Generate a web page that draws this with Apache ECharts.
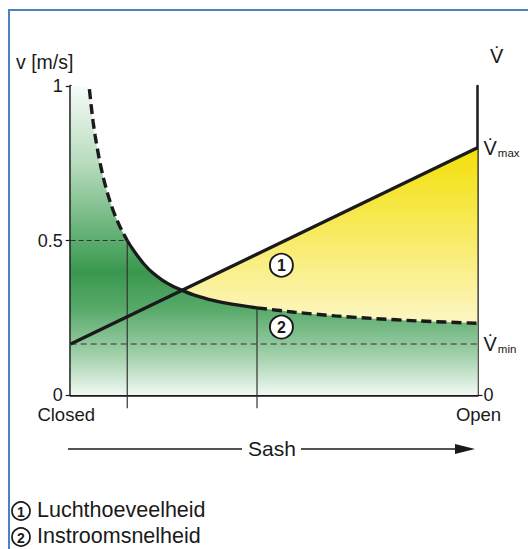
<!DOCTYPE html>
<html><head><meta charset="utf-8">
<script src="https://cdn.jsdelivr.net/npm/echarts@6/dist/echarts.min.js"></script>
<style>html,body{margin:0;padding:0;background:#fff}#c{width:528px;height:549px}</style>
</head><body><div id="c"></div>
<script>
// Curve (2) inflow velocity (x = sash opening 0..1, v in m/s)
const curveX = [0.046,0.05,0.055,0.06,0.07,0.08,0.09,0.10,0.11,0.12,0.13,0.139,0.15,0.165,0.18,0.20,0.225,0.25,0.277,0.30,0.35,0.40,0.458,0.55,0.65,0.75,0.85,1.0];
const curveV = [0.99,0.94,0.885,0.84,0.765,0.705,0.655,0.613,0.578,0.548,0.522,0.50,0.477,0.449,0.424,0.397,0.372,0.353,0.337,0.325,0.306,0.293,0.282,0.268,0.256,0.247,0.240,0.232];
// Line (1) air volume
const lineX = [0, 1];
const lineV = [0.165, 0.80];
const crossPoint = [0.272, 0.338];
const vMin = 0.165;
const vMax = 0.80;
const guideX = [0.139, 0.458];      // vertical guide positions
const guideBottom = -0.043;
const leftTicks = [0, 0.5, 1];
const xLabelValues = [0, 1];
const xLabels = ['Closed', 'Open'];
const badges = [[0.518, 0.42, '1'], [0.518, 0.22, '2']];
const legendLabels = ['Luchthoeveelheid', 'Instroomsnelheid'];

const FONT = 'Liberation Sans, Arial, Helvetica, sans-serif';
const INK = '#1a1a1a';
const curve = curveX.map((x, i) => [x, curveV[i]]);
const iA = curveX.indexOf(guideX[0]);
const iB = curveX.indexOf(guideX[1]);
const dashed1 = curve.slice(0, iA + 1);
const solid = curve.slice(iA, iB + 1);
const dashed2 = curve.slice(iB);
const greenArea = [[0, 1]].concat(curve);

const chart = echarts.init(document.getElementById('c'), null, {renderer: 'svg'});
const base = {type: 'line', symbol: 'none', silent: true, animation: false};
chart.setOption({
  animation: false,
  grid: {left: 70.7, right: 50.5, top: 86, bottom: 154},
  xAxis: {
    type: 'value', min: 0, max: 1,
    axisLine: {lineStyle: {color: INK, width: 2.5}},
    axisTick: {show: false},
    splitLine: {show: false},
    axisLabel: {customValues: xLabelValues,
      formatter: v => v === 0 ? '{l|' + xLabels[0] + '}' : '{r|' + xLabels[1] + '}',
      fontSize: 18.5, color: INK, fontFamily: FONT, margin: 10,
      rich: {l: {fontSize: 18.5, fontFamily: FONT, color: INK, padding: [0, 9, 0, 0]},
             r: {fontSize: 18.5, fontFamily: FONT, color: INK, padding: [0, 0, 0, 2]}}}
  },
  yAxis: [{
    type: 'value', min: 0, max: 1, interval: 0.5,
    axisLine: {show: true, lineStyle: {color: INK, width: 2.5}},
    axisTick: {show: true, length: 5, lineStyle: {color: INK, width: 1.2}, customValues: leftTicks},
    splitLine: {show: false},
    axisLabel: {customValues: leftTicks, fontSize: 18, color: INK, fontFamily: FONT, margin: 8,
      formatter: v => String(v)}
  }, {
    type: 'value', min: 0, max: 1, position: 'right',
    axisLine: {show: true, onZero: false, lineStyle: {color: INK, width: 2.5}},
    axisTick: {show: true, length: 5, lineStyle: {color: INK, width: 1.2}, customValues: [0]},
    splitLine: {show: false},
    axisLabel: {customValues: [0, vMin, vMax], color: INK, fontFamily: FONT, margin: 6, fontSize: 18,
      formatter: v => v === 0 ? '0' : '{v|V\u0307}{s|' + (v === vMin ? 'min' : 'max') + '}',
      rich: {v: {fontSize: 20, fontFamily: FONT, color: INK}, s: {fontSize: 11.5, fontFamily: FONT, color: INK, padding: [10, 0, 0, 1]}}}
  }],
  series: [
    Object.assign({}, base, {data: [crossPoint, [1, vMax]], z: 1, lineStyle: {width: 0},
      areaStyle: {opacity: 1, color: new echarts.graphic.LinearGradient(0, 0, 0, 1, [
        {offset: 0, color: '#f4df08'}, {offset: 0.3, color: '#f7e955'}, {offset: 0.71, color: '#fdf6c4'}, {offset: 1, color: '#fffbe2'}])}}),
    Object.assign({}, base, {data: greenArea, z: 2, smooth: 0.25, lineStyle: {width: 0},
      areaStyle: {opacity: 1, color: new echarts.graphic.LinearGradient(0, 0, 0, 1, [
        {offset: 0, color: '#f6fbf7'}, {offset: 0.25, color: '#b7dcbe'}, {offset: 0.5, color: '#5cad6e'},
        {offset: 0.6, color: '#3a974e'}, {offset: 0.72, color: '#57a96a'}, {offset: 0.88, color: '#a6d3af'}, {offset: 1, color: '#f2f9f3'}])}}),
    Object.assign({}, base, {data: [[0, vMin], [1, vMin]], z: 3, lineStyle: {color: '#333', width: 1, type: [6, 4]}}),
    Object.assign({}, base, {data: [[0, 0.5], [guideX[0], 0.5]], z: 3, lineStyle: {color: '#333', width: 1, type: [5, 3]}}),
    Object.assign({}, base, {data: [[guideX[0], 0.5], [guideX[0], guideBottom]], z: 3, clip: false, lineStyle: {color: '#333', width: 1.2}}),
    Object.assign({}, base, {data: [[guideX[1], curveV[iB]], [guideX[1], guideBottom]], z: 3, clip: false, lineStyle: {color: '#333', width: 1.2}}),
    Object.assign({}, base, {data: lineX.map((x, i) => [x, lineV[i]]), z: 4, lineStyle: {color: INK, width: 3.3}}),
    Object.assign({}, base, {data: dashed1, z: 4, smooth: 0.25, lineStyle: {color: INK, width: 3.4, type: [10, 5]}}),
    Object.assign({}, base, {data: solid, z: 4, smooth: 0.25, lineStyle: {color: INK, width: 3.3}}),
    Object.assign({}, base, {data: dashed2, z: 4, smooth: 0.25, lineStyle: {color: INK, width: 3.4, type: [10, 5]}}),
    {type: 'scatter', silent: true, z: 5, symbol: 'circle', symbolSize: 23,
      data: badges.map(b => [b[0], b[1]]),
      itemStyle: {color: '#fff', borderColor: INK, borderWidth: 1.9, opacity: 1},
      label: {show: true, position: 'inside', formatter: p => badges[p.dataIndex][2],
        fontSize: 16, fontWeight: 'bold', color: INK, fontFamily: FONT}}
  ],
  graphic: [
    {type: 'polyline', shape: {points: [[9, 549], [9, 10], [528, 10]]}, style: {stroke: '#4f80c4', lineWidth: 2, fill: null}},
    {type: 'text', left: 16, top: 52, style: {text: 'v [m/s]', font: '19.5px ' + FONT, fill: INK}},
    {type: 'text', left: 490, top: 46, style: {text: 'V\u0307', font: '20px ' + FONT, fill: INK}},
    {type: 'line', shape: {x1: 68, y1: 449, x2: 242, y2: 449}, style: {stroke: INK, lineWidth: 1.6}},
    {type: 'text', left: 248, top: 438, style: {text: 'Sash', font: '21px ' + FONT, fill: INK}},
    {type: 'line', shape: {x1: 301, y1: 449, x2: 458, y2: 449}, style: {stroke: INK, lineWidth: 1.6}},
    {type: 'polygon', shape: {points: [[455, 444], [475, 449], [455, 454]]}, style: {fill: INK}},
    {type: 'circle', shape: {cx: 21, cy: 511, r: 9}, style: {stroke: INK, lineWidth: 1.7, fill: '#fff'}},
    {type: 'text', x: 21, y: 511.5, style: {text: '1', font: 'bold 14px ' + FONT, fill: INK, align: 'center', verticalAlign: 'middle'}},
    {type: 'text', left: 37, top: 498.5, style: {text: legendLabels[0], font: '21.5px ' + FONT, fill: INK}},
    {type: 'circle', shape: {cx: 21, cy: 537, r: 9}, style: {stroke: INK, lineWidth: 1.7, fill: '#fff'}},
    {type: 'text', x: 21, y: 537.5, style: {text: '2', font: 'bold 14px ' + FONT, fill: INK, align: 'center', verticalAlign: 'middle'}},
    {type: 'text', left: 37, top: 524.5, style: {text: legendLabels[1], font: '21.5px ' + FONT, fill: INK}}
  ]
});
</script></body></html>
